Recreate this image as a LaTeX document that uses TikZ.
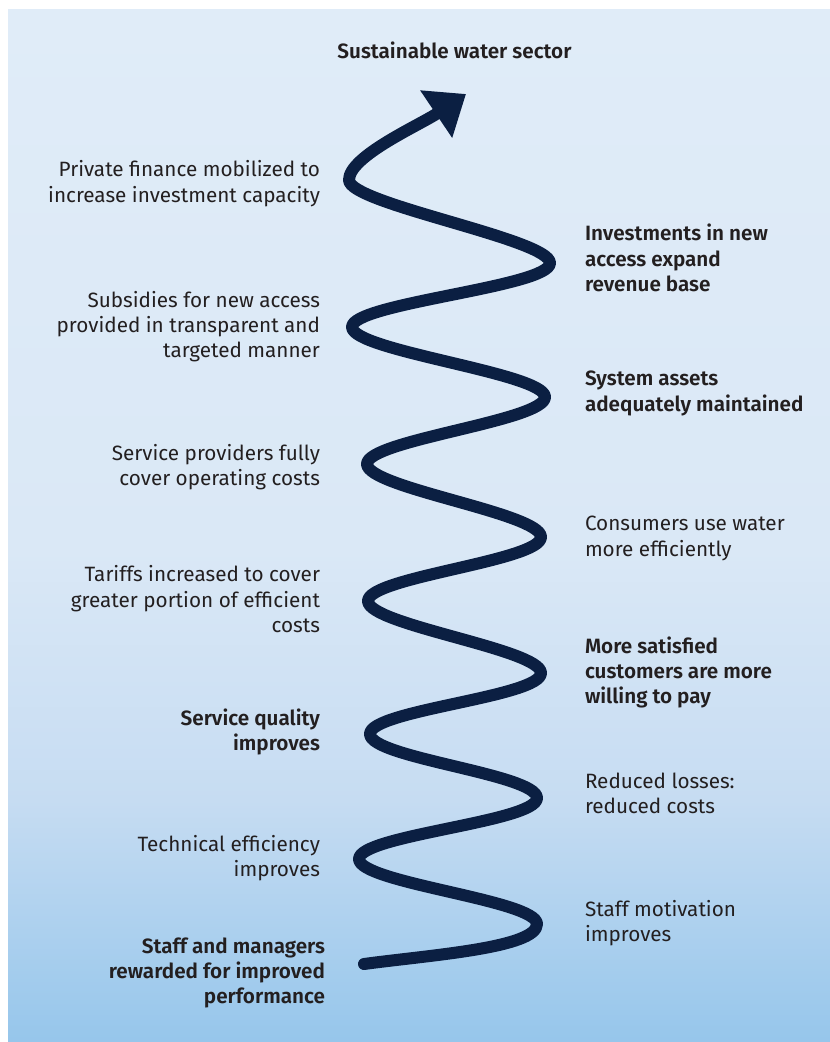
\documentclass[tikz,border=0pt]{standalone}
\usepackage{fontspec}
\setmainfont{Fira Sans}[BoldFont={Fira Sans SemiBold}]
\usetikzlibrary{arrows.meta}
\definecolor{navy}{HTML}{0B1F42}
\definecolor{txt}{HTML}{231F20}
\definecolor{bgA}{HTML}{E0ECF8}
\definecolor{bgB}{HTML}{DAE8F6}
\definecolor{bgC}{HTML}{C6DCF2}
\definecolor{bgD}{HTML}{96C6EB}
\newcommand\fr{\rule{0pt}{17pt}}
\begin{document}
\begin{tikzpicture}[x=1pt,y=-1pt,
  lab/.style={inner sep=0pt, outer sep=0pt, text=txt, font=\fontsize{20.7}{25.3}\selectfont},
  labb/.style={lab, font=\fontsize{20.7}{25.3}\selectfont\bfseries},
  labL/.style={align=right, anchor=north east},
  labR/.style={align=left, anchor=north west},
  spiral/.style={draw=navy, line width=12pt, line cap=round, line join=round}]
\useasboundingbox (0,0) rectangle (830,1042);
\fill[white] (0,0) rectangle (830,1042);
\shade[top color=bgA, bottom color=bgB] (8,9) rectangle (830,551);
\shade[top color=bgB, bottom color=bgC] (8,550) rectangle (830,801);
\shade[top color=bgC, bottom color=bgD] (8,800) rectangle (830,1042);

% spiral
\draw[spiral, -{Triangle[length=36pt,width=55pt]}]
  (364,964) .. controls (430,955) and (537,948) .. (537,924)
  .. controls (537,900) and (359,883) .. (359,859)
  .. controls (359,835) and (537,822) .. (537,798)
  .. controls (537,774) and (370,758) .. (370,734)
  .. controls (370,710) and (541,697) .. (541,673)
  .. controls (541,649) and (368,625) .. (368,601)
  .. controls (368,577) and (541,561) .. (541,537)
  .. controls (541,513) and (367,488) .. (367,464)
  .. controls (367,440) and (545,421) .. (545,397)
  .. controls (545,373) and (352,351) .. (352,327)
  .. controls (352,303) and (550,287) .. (550,263)
  .. controls (550,239) and (349,204) .. (349,180)
  .. controls (349,156) and (420,125) .. (466,94);

% title
\node[labb, anchor=north] (title) at (454.5,41) {\fr Sustainable water sector};

% left labels
\node[lab, labL] (pf) at (320,159.7) {\fr Private finance mobilized to\\increase investment capacity};
\node[lab, labL] (sub) at (320,290.3) {\fr Subsidies for new access\\provided in transparent and\\targeted manner};
\node[lab, labL] (spc) at (320,443) {\fr Service providers fully\\cover operating costs};
\node[lab, labL] (tar) at (320,564.7) {\fr Tariffs increased to cover\\greater portion of efficient\\costs};
\node[labb, labL] (sq) at (320,708) {\fr Service quality\\improves};
\node[lab, labL] (te) at (320,834) {\fr Technical efficiency\\improves};
\node[labb, labL] (smr) at (325,936) {\fr Staff and managers\\rewarded for improved\\performance};

% right labels
\node[labb, labR] (inv) at (585,223.7) {\fr Investments in new\\access expand\\revenue base};
\node[labb, labR] (sys) at (585,368.7) {\fr System assets\\adequately maintained};
\node[lab, labR] (con) at (585,513.7) {\fr Consumers use water\\more efficiently};
\node[labb, labR] (sat) at (585,636.3) {\fr More satisfied\\customers are more\\willing to pay};
\node[lab, labR] (red) at (585,771.3) {\fr Reduced losses:\\reduced costs};
\node[lab, labR] (mot) at (585,899) {\fr Staff motivation\\improves};
\end{tikzpicture}
\end{document}
